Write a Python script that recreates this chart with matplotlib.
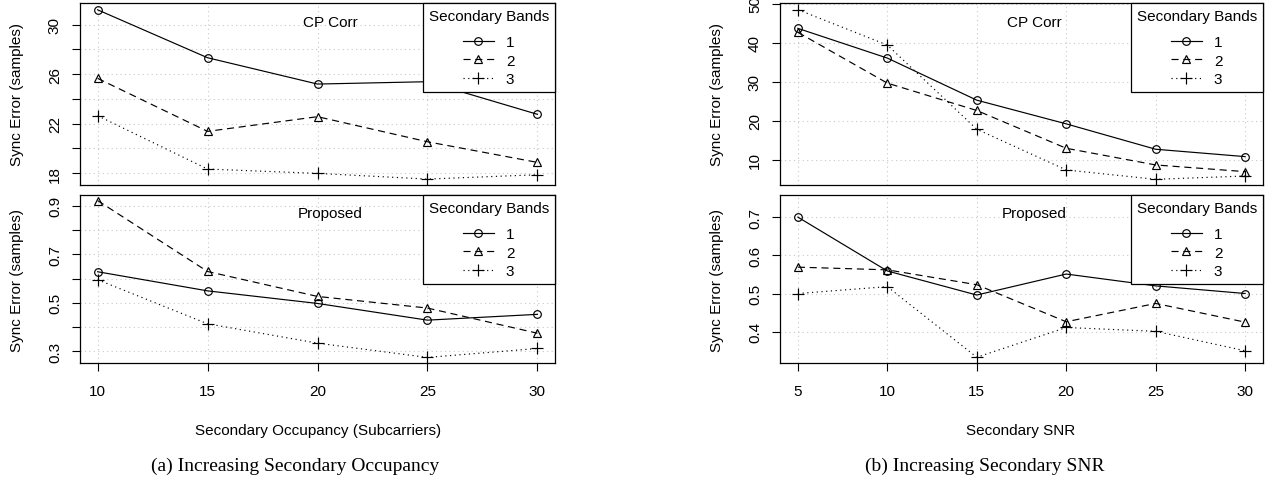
#!/usr/bin/env python3
"""
Sync error vs secondary occupancy / secondary SNR
CP Corr (top) and Proposed (bottom), 1-3 secondary bands.
"""

import matplotlib
matplotlib.use('Agg')
import matplotlib.pyplot as plt
from matplotlib.ticker import FixedLocator, FuncFormatter

# ---- data ----
occupancy = [10, 15, 20, 25, 30]
snr = [5, 10, 15, 20, 25, 30]
bands = ['1', '2', '3']

occ_cpcorr_b1 = [31.21, 27.33, 25.20, 25.39, 22.75]
occ_cpcorr_b2 = [25.66, 21.37, 22.56, 20.53, 18.86]
occ_cpcorr_b3 = [22.64, 18.32, 17.97, 17.51, 17.86]

occ_prop_b1 = [0.628, 0.549, 0.497, 0.428, 0.452]
occ_prop_b2 = [0.922, 0.629, 0.526, 0.478, 0.374]
occ_prop_b3 = [0.595, 0.413, 0.333, 0.274, 0.311]

snr_cpcorr_b1 = [43.68, 36.06, 25.27, 19.19, 12.68, 10.79]
snr_cpcorr_b2 = [42.66, 29.64, 22.62, 12.93, 8.65, 6.94]
snr_cpcorr_b3 = [48.48, 39.40, 17.82, 7.37, 4.97, 5.82]

snr_prop_b1 = [0.700, 0.559, 0.496, 0.551, 0.520, 0.500]
snr_prop_b2 = [0.569, 0.562, 0.523, 0.426, 0.474, 0.425]
snr_prop_b3 = [0.500, 0.518, 0.333, 0.411, 0.401, 0.350]

W, H = 1266, 481
SANS = ['Liberation Sans', 'DejaVu Sans']
SERIF = ['Liberation Serif', 'DejaVu Serif']
FS = 11

plt.rcParams['font.family'] = SANS
plt.rcParams['font.size'] = FS

STYLES = [
    dict(ls='-', marker='o', ms=5.5),
    dict(ls=(0, (6, 4)), marker='^', ms=6.0),
    dict(ls=(0, (1, 3)), marker='+', ms=8.0),
]


def px_axes(fig, left, top, right, bottom):
    """Axes from pixel box (top-left origin)."""
    return fig.add_axes([left / W, 1 - bottom / H, (right - left) / W, (bottom - top) / H])


def draw_panel(ax, x, series, xlim, ylim, yticks, ylabels, title, show_x):
    for (vals, lab, st) in zip(series, bands, STYLES):
        ax.plot(x, vals, color='black', lw=0.85, linestyle=st['ls'],
                marker=st['marker'], ms=st['ms'], mfc='none', mec='black',
                mew=0.85, label=lab)

    ax.set_xlim(*xlim)
    ax.set_ylim(*ylim)

    ax.set_xticks(x)
    ax.yaxis.set_major_locator(FixedLocator(yticks))
    ax.yaxis.set_major_formatter(
        FuncFormatter(lambda v, p: next((s for t, s in zip(yticks, ylabels) if abs(t - v) < 1e-9), '')))
    for lab in ax.get_yticklabels():
        lab.set_rotation(90)
        lab.set_va('center')

    ax.grid(True, color='#c8c8c8', linestyle=(0, (1, 3)), lw=0.8)
    ax.set_axisbelow(True)

    ax.tick_params(axis='y', length=6, width=0.8, pad=7, labelsize=FS)
    if show_x:
        ax.tick_params(axis='x', length=6, width=0.8, pad=9, labelsize=FS)
    else:
        ax.tick_params(axis='x', length=0, labelbottom=False)

    for sp in ax.spines.values():
        sp.set_linewidth(0.9)
        sp.set_color('black')

    ax.text(0.527, 0.895, title, transform=ax.transAxes, ha='center', va='center', fontsize=FS)

    leg = ax.legend(loc='upper right', bbox_to_anchor=(1, 1), borderaxespad=0,
                    title='Secondary Bands', title_fontsize=FS, fontsize=FS,
                    frameon=True, fancybox=False, framealpha=1, edgecolor='black',
                    handlelength=2.0, handletextpad=0.8, labelspacing=0.3,
                    borderpad=0.4, alignment='center')
    leg.get_frame().set_linewidth(0.9)
    # more room between title and the entries, as in the R legend
    leg._legend_box.sep = 8.5


def main():
    fig = plt.figure(figsize=(W / 100, H / 100), dpi=100)

    # (a) secondary occupancy
    ax1 = px_axes(fig, 80, 4, 555, 186)
    draw_panel(ax1, occupancy, [occ_cpcorr_b1, occ_cpcorr_b2, occ_cpcorr_b3],
               (9.2, 30.8), (17.03, 31.76),
               [18, 20, 22, 24, 26, 28, 30], ['18', '', '22', '', '26', '', '30'],
               'CP Corr', False)
    ax2 = px_axes(fig, 80, 196, 555, 364)
    draw_panel(ax2, occupancy, [occ_prop_b1, occ_prop_b2, occ_prop_b3],
               (9.2, 30.8), (0.251, 0.945),
               [0.3, 0.4, 0.5, 0.6, 0.7, 0.8, 0.9], ['0.3', '', '0.5', '', '0.7', '', '0.9'],
               'Proposed', True)

    # (b) secondary SNR
    ax3 = px_axes(fig, 780, 4, 1263, 186)
    draw_panel(ax3, snr, [snr_cpcorr_b1, snr_cpcorr_b2, snr_cpcorr_b3],
               (4, 31), (3.51, 50.19),
               [10, 20, 30, 40, 50], ['10', '20', '30', '40', '50'],
               'CP Corr', False)
    ax4 = px_axes(fig, 780, 196, 1263, 364)
    draw_panel(ax4, snr, [snr_prop_b1, snr_prop_b2, snr_prop_b3],
               (4, 31), (0.318, 0.758),
               [0.4, 0.5, 0.6, 0.7], ['0.4', '0.5', '0.6', '0.7'],
               'Proposed', True)

    # y labels, x labels, captions (pixel positions)
    for xpx, ypx in [(17, 95), (17, 280), (717, 95), (717, 280)]:
        fig.text(xpx / W, 1 - ypx / H, 'Sync Error (samples)', rotation=90,
                 ha='center', va='center', fontsize=FS)
    fig.text(318 / W, 1 - 431 / H, 'Secondary Occupancy (Subcarriers)',
             ha='center', va='center', fontsize=FS)
    fig.text(1021 / W, 1 - 431 / H, 'Secondary SNR', ha='center', va='center', fontsize=FS)

    fig.text(295 / W, 1 - 466 / H, '(a) Increasing Secondary Occupancy',
             ha='center', va='center', fontsize=14, family=SERIF)
    fig.text(985 / W, 1 - 466 / H, '(b) Increasing Secondary SNR',
             ha='center', va='center', fontsize=14, family=SERIF)

    fig.savefig('out.png', dpi=100)


if __name__ == '__main__':
    main()
